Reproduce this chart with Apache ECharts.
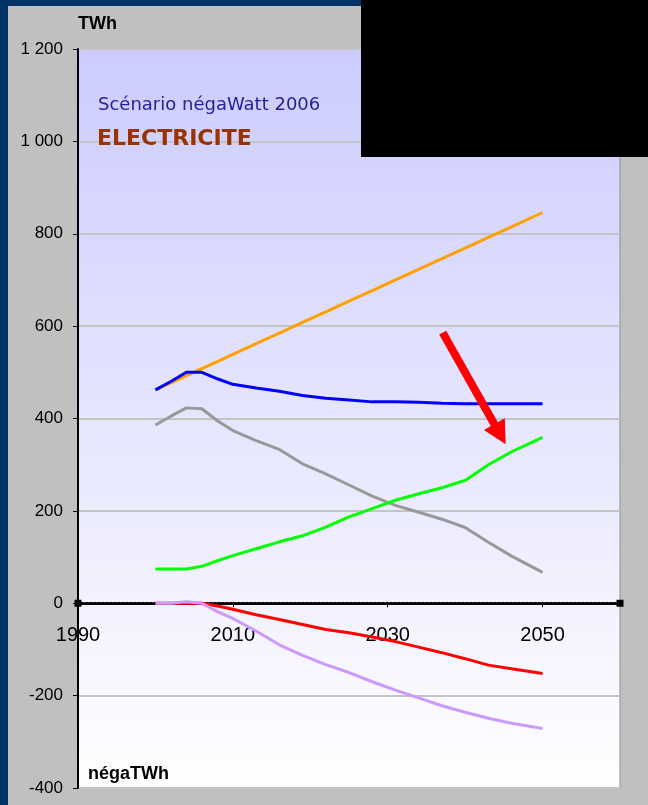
<!DOCTYPE html>
<html>
<head>
<meta charset="utf-8">
<script src="https://cdn.jsdelivr.net/npm/echarts@6/dist/echarts.min.js"></script>
<style>
html, body { margin: 0; padding: 0; background: #003366; }
#chart { width: 648px; height: 805px; }
</style>
</head>
<body>
<div id="chart"></div>
<script>
// années
var years = [2000, 2002, 2004, 2006, 2008, 2010, 2013, 2016, 2019, 2022, 2025, 2028, 2031, 2034, 2037, 2040, 2043, 2046, 2050];
var tendanciel = [462, 477, 493, 508, 523, 539, 562, 585, 608, 631, 654, 677, 700, 723, 746, 769, 792, 815, 846];
var consommation = [462, 480, 500, 500, 486, 474, 466, 459, 450, 444, 440, 436, 436, 435, 433, 432, 432, 432, 432];
var nucleaire = [386, 405, 423, 421, 395, 374, 352, 333, 302, 280, 256, 232, 212, 197, 182, 164, 132, 102, 67];
var renouvelables = [74, 74, 74, 80, 92, 103, 118, 133, 146, 165, 187, 205, 223, 237, 250, 266, 300, 328, 359];
var efficacite = [0, 0, 0, 0, -6, -13, -25, -35, -46, -57, -64, -73, -83, -95, -107, -120, -134, -142, -152];
var sobriete = [0, 0, 3, 0, -18, -33, -60, -90, -113, -133, -150, -170, -188, -205, -222, -236, -249, -260, -271];

var yMin = -400, yMax = 1200;
var arrowFrom = [2037.1, 586];
var arrowTo = [2044.5, 366];

var gridTop = 49, gridBottom = 17, chartH = 805;
// position de l'axe des x sur la valeur 0
var plotH = chartH - gridTop - gridBottom;
var zeroOffset = -plotH * (0 - yMin) / (yMax - yMin);

function pairs(vals) {
    return years.map(function (y, i) { return [y, vals[i]]; });
}

function line(name, color, vals, extra) {
    var s = {
        name: name,
        type: 'line',
        data: pairs(vals),
        symbol: 'none',
        lineStyle: { color: color, width: 3 },
        itemStyle: { color: color }
    };
    return Object.assign(s, extra || {});
}

var chart = echarts.init(document.getElementById('chart'));
chart.setOption({
    animation: false,
    backgroundColor: '#c0c0c0',
    grid: {
        left: 78,
        right: 28,
        top: gridTop,
        bottom: gridBottom,
        containLabel: false,
        outerBoundsMode: 'none',
        show: true,
        borderColor: '#909090',
        borderWidth: 1,
        backgroundColor: new echarts.graphic.LinearGradient(0, 0, 0, 1, [
            { offset: 0, color: '#ccccff' },
            { offset: 1, color: '#ffffff' }
        ])
    },
    xAxis: {
        type: 'value',
        min: 1990,
        max: 2060,
        interval: 20,
        offset: zeroOffset,
        axisLine: {
            onZero: false,
            symbol: ['rect', 'rect'],
            symbolSize: [7, 7],
            lineStyle: { color: '#000', width: 3, type: [2, 2] }
        },
        axisTick: { show: true, length: 4, lineStyle: { color: '#000' } },
        axisLabel: {
            margin: 22,
            color: '#000',
            fontSize: 20,
            fontFamily: 'Liberation Sans',
            showMaxLabel: false,
            formatter: function (v) { return String(v); }
        },
        splitLine: { show: false }
    },
    yAxis: {
        type: 'value',
        min: yMin,
        max: yMax,
        interval: 200,
        axisLine: { show: true, lineStyle: { color: '#000', width: 2 } },
        axisTick: { show: true, length: 5, lineStyle: { color: '#000', width: 1 } },
        axisLabel: {
            margin: 15,
            color: '#000',
            fontSize: 17,
            fontFamily: 'Liberation Sans',
            formatter: function (v) {
                var s = String(Math.abs(v)).replace(/\B(?=(\d{3})+(?!\d))/g, ' ');
                return (v < 0 ? '-' : '') + s;
            }
        },
        splitLine: { show: true, lineStyle: { color: '#c4c4c4', width: 2 } }
    },
    series: [
        line('Tendanciel', '#ffa000', tendanciel),
        line('Consommation négaWatt', '#0000ff', consommation),
        line('Nucléaire', '#999999', nucleaire),
        line('Renouvelables', '#00ff00', renouvelables, {
            markLine: {
                silent: true,
                symbol: ['none', 'triangle'],
                symbolSize: [24, 23],
                label: { show: false },
                lineStyle: { color: '#ff0000', width: 8, type: 'solid' },
                itemStyle: { color: '#ff0000' },
                emphasis: { disabled: true },
                data: [[{ coord: arrowFrom }, { coord: arrowTo }]]
            }
        }),
        line('Efficacité', '#ff0000', efficacite),
        line('Sobriété', '#cc99ff', sobriete)
    ],
    graphic: [
        { type: 'rect', left: 0, top: 0, shape: { width: 8, height: 805 }, style: { fill: '#003366' } },
        { type: 'rect', left: 0, top: 0, shape: { width: 648, height: 6 }, style: { fill: '#003366' } },
        { type: 'rect', left: 361, top: 0, shape: { width: 287, height: 157 }, style: { fill: '#000000' }, z: 100 },
        {
            type: 'text', left: 78, top: 15, z: 100,
            style: { text: 'TWh', fill: '#000', font: 'bold 18px "Liberation Sans"' }
        },
        {
            type: 'text', left: 88, top: 765, z: 100,
            style: { text: 'négaTWh', fill: '#000', font: 'bold 18px "Liberation Sans"' }
        },
        {
            type: 'text', left: 98, top: 96, z: 100,
            style: { text: 'Scénario négaWatt 2006', fill: '#22229a', font: '18px "DejaVu Sans"' }
        },
        {
            type: 'text', left: 97, top: 128, z: 100,
            style: { text: 'ELECTRICITE', fill: '#993300', font: 'bold 22px "DejaVu Sans"' }
        }
    ]
});
</script>
</body>
</html>
